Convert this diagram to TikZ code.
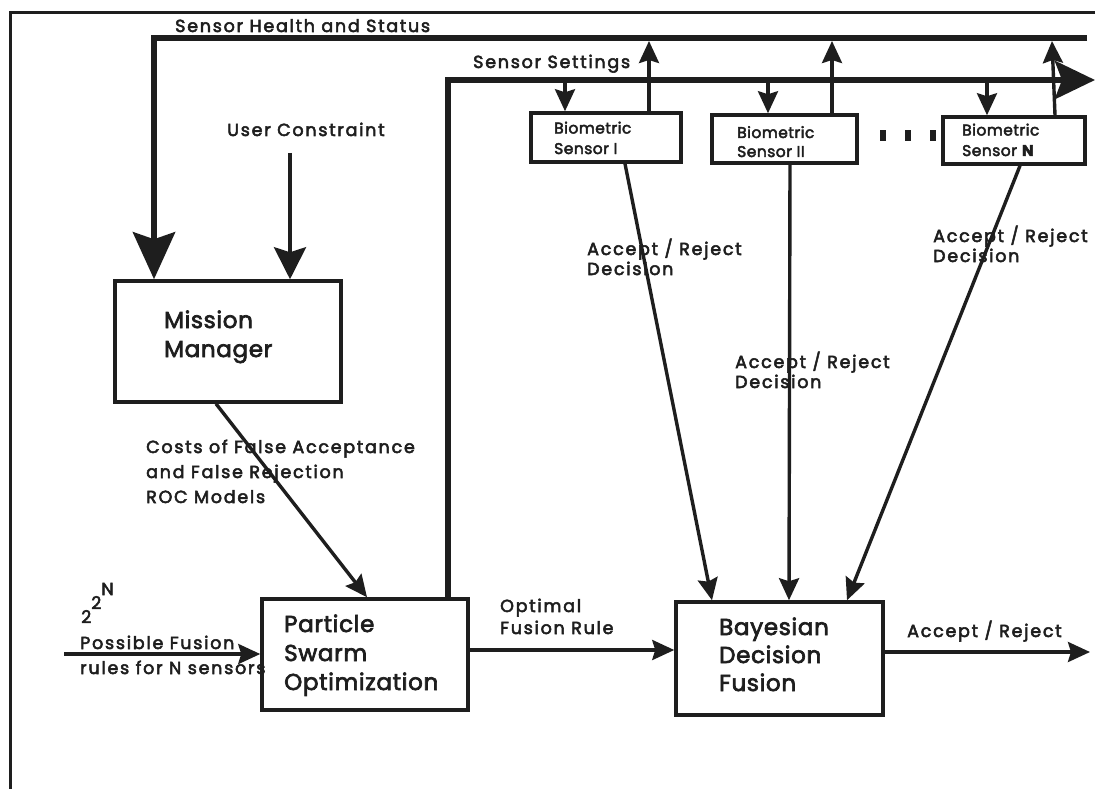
\documentclass[tikz,border=0pt]{standalone}
\usepackage{fontspec}
\setmainfont{Poppins}[FakeBold=3, LetterSpace=3]
\newfontfamily\lblfont{Poppins}[FakeBold=3, LetterSpace=10]
\usetikzlibrary{arrows.meta,calc}
\definecolor{ink}{HTML}{1E1E1E}
\tikzset{
  box/.style={draw=ink, line width=3.5pt, inner sep=0pt},
  lbl/.style={inner sep=0pt, anchor=base west, align=left, text=ink, font=\lblfont\fontsize{17.5}{20}\selectfont},
  boxlbl/.style={inner sep=0pt, anchor=base west, align=left, text=ink, font=\fontsize{23}{29}\selectfont},
  senslbl/.style={inner sep=0pt, anchor=base west, align=left, text=ink, font=\fontsize{15.5}{20.5}\selectfont},
  thin/.style={draw=ink, line width=3.4pt},
  thick/.style={draw=ink, line width=6pt},
  tipS/.style={-{Stealth[length=22pt,width=20pt,inset=3pt]}},
  tipM/.style={-{Stealth[length=32pt,width=32pt,inset=5pt]}},
  tipL/.style={-{Stealth[length=47pt,width=42pt,inset=7pt]}},
}
\begin{document}
\begin{tikzpicture}[x=1pt,y=-1pt]
\useasboundingbox (0,0) rectangle (1095,789);
% outer frame
\draw[ink, line width=3pt] (1095,13) -- (10,13) -- (10,789);

% boxes
\node[box, minimum width=226pt, minimum height=121pt] (mm) at (228,341.5) {};
\node[box, minimum width=206pt, minimum height=111pt] (pso) at (365,654.5) {};
\node[box, minimum width=207pt, minimum height=113pt] (bayes) at (779.5,658.5) {};
\node[box, minimum width=150pt, minimum height=49pt] (s1) at (606,137.5) {};
\node[box, minimum width=145pt, minimum height=48pt] (s2) at (784.5,139) {};
\node[box, minimum width=142pt, minimum height=47pt] (sn) at (1014,140.5) {};

% box texts (anchor = baseline of last line)
\node[boxlbl] (mmt) at (164,357) {Mission\\Manager};
\node[boxlbl] (psot) at (284,690) {Particle\\Swarm\\Optimization};
\node[boxlbl, font=\fontsize{23}{28}\selectfont] (bayt) at (719,691) {Bayesian\\Decision\\Fusion};
\node[senslbl] (s1t) at (554,154) {Biometric\\Sensor I};
\node[senslbl, font=\fontsize{15.5}{19}\selectfont] (s2t) at (737,157) {Biometric\\Sensor II};
\node[senslbl] (snt) at (962,156) {Biometric\\Sensor \textbf{N}};

% labels
\node[lbl] (lhealth) at (175,32) {Sensor Health and Status};
\node[lbl] (lsett) at (473,68) {Sensor Settings};
\node[lbl] (luser) at (227,136) {User Constraint};
\node[lbl, font=\lblfont\fontsize{17.5}{25}\selectfont] (lcost) at (146,503) {Costs of False Acceptance\\and False Rejection\\ROC Models};
\node[lbl, font=\lblfont\fontsize{17.5}{22}\selectfont] (lopt) at (500,634) {Optimal\\Fusion Rule};
\node[lbl] (lout) at (907,637) {Accept / Reject};
\node[lbl] (ld1) at (587,275) {Accept / Reject\\Decision};
\node[lbl] (ld2) at (735,388) {Accept / Reject\\Decision};
\node[lbl] (ld3) at (933,262) {Accept / Reject\\Decision};
\node[lbl] (lexp) at (81,623) {2\raisebox{14pt}{2\raisebox{14pt}{N}}};
\node[lbl, font=\lblfont\fontsize{17.5}{25}\selectfont] (lposs) at (80,674) {Possible Fusion\\rules for N sensors};

% dots
\fill[ink] (880,130) rectangle (886,141);
\fill[ink] (905,130) rectangle (911,141);
\fill[ink] (930,130) rectangle (936,141);

% coordinates
\coordinate (hcorner) at (154,38);
\coordinate (hend) at (1087,38);
\coordinate (hbot) at (0,41);
\coordinate (scorner) at (448,80);
\coordinate (send) at (1095,80);
\coordinate (sbot) at (0,80);
\coordinate (uc) at (290,153);
\coordinate (in) at (64,654);
\coordinate (out) at (1090,652);

% sensor health and status line
\draw[thick, tipL] (hend) -- (hcorner) -- (hcorner |- mm.north);
% sensor settings line
\draw[thick, -{Stealth[length=40pt,width=38pt,inset=7pt]}] (scorner |- pso.north) -- (scorner) -- (send);

% user constraint
\draw[thin, line width=4pt, tipM] (uc) -- (uc |- mm.north);

% settings down into sensors
\draw[thin, tipS] ([xshift=-41pt]s1.north |- sbot) -- ([xshift=-41pt]s1.north);
\draw[thin, tipS] ([xshift=-16.5pt]s2.north |- sbot) -- ([xshift=-16.5pt]s2.north);
\draw[thin, tipS] ([xshift=-27pt]sn.north |- sbot) -- ([xshift=-27pt]sn.north);
% sensors up to health
\draw[thin, tipS] ([xshift=43pt]s1.north) -- ([xshift=43pt]s1.north |- hbot);
\draw[thin, tipS] ([xshift=47.5pt]s2.north) -- ([xshift=47.5pt]s2.north |- hbot);
\draw[thin, tipS] ([xshift=41pt]sn.north) -- ([xshift=38pt]sn.north |- hbot);

% decisions to fusion
\draw[thin, tipS] ([xshift=19pt]s1.south) -- ([xshift=-67.5pt]bayes.north);
\draw[thin, tipS] ([xshift=5.5pt]s2.south) -- ([xshift=9.5pt]bayes.north);
\draw[thin, tipS] ([xshift=6pt]sn.south) -- ([xshift=67.5pt]bayes.north);

% mission manager to PSO
\draw[thin, tipS] ([xshift=-12pt]mm.south) -- ([xshift=2pt]pso.north);

% input, PSO->Bayes, output
\draw[thin, tipS] (in) -- (in -| pso.west);
\draw[thin, tipS] ([yshift=4.5pt]pso.east) -- ([yshift=4.5pt]pso.east -| bayes.west);
\draw[thin, tipS] ([yshift=6.5pt]bayes.east) -- (out);
\end{tikzpicture}
\end{document}
